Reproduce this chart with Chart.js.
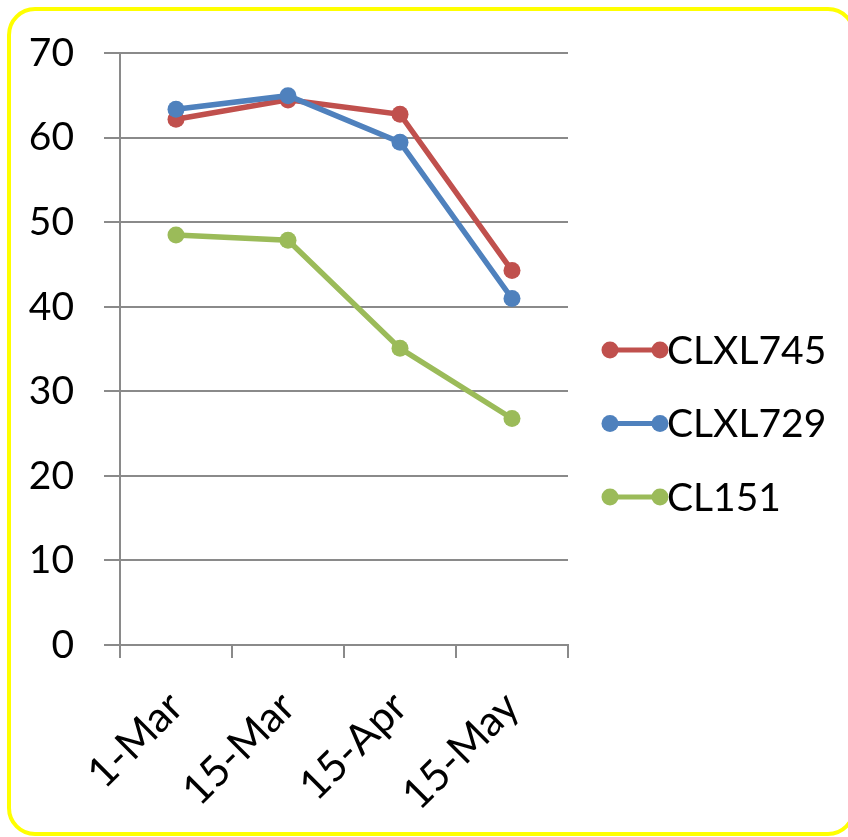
<!DOCTYPE html>
<html>
<head>
<meta charset="utf-8">
<script src="https://cdn.jsdelivr.net/npm/chart.js@4.4.0/dist/chart.umd.min.js"></script>
<style>
  html, body { margin: 0; padding: 0; background: #fff; }
  #wrap { position: relative; width: 848px; height: 837px; overflow: hidden; }
  #frame {
    position: absolute; left: 7px; top: 7px; width: 841px; height: 821px;
    border: 4px solid #ffff00; border-radius: 28px; box-sizing: content-box;
  }
  canvas { position: absolute; left: 0; top: 0; }
</style>
</head>
<body>
<div id="wrap">
  <div id="frame"></div>
  <canvas id="c" width="848" height="837"></canvas>
</div>
<script>
// Sampling dates
const categories = ['1-Mar', '15-Mar', '15-Apr', '15-May'];

// Series values per hybrid
const clxl745 = [62.2, 64.5, 62.8, 44.3];
const clxl729 = [63.4, 65.0, 59.5, 41.0];
const cl151   = [48.5, 47.9, 35.1, 26.8];

// Value axis ticks
const yTicks = [0, 10, 20, 30, 40, 50, 60, 70];

const FONT = 'Lato';
const GRID = '#8a8a8a';

function series(label, data, color, order) {
  return {
    label, data, order,
    borderColor: color, backgroundColor: color,
    borderWidth: 5.5, tension: 0,
    pointRadius: 8.5, pointHoverRadius: 8.5,
    pointBackgroundColor: color, pointBorderWidth: 0
  };
}

// Legend on the right: line with a dot at each end, then the label
const sideLegend = {
  id: 'sideLegend',
  afterDraw(chart) {
    const ctx = chart.ctx;
    const x0 = 610, x1 = 660, top = 350, gap = 73.5;
    ctx.save();
    chart.data.datasets.forEach((ds, i) => {
      const y = top + i * gap;
      ctx.strokeStyle = ds.borderColor;
      ctx.fillStyle = ds.borderColor;
      ctx.lineWidth = 5;
      ctx.beginPath(); ctx.moveTo(x0, y); ctx.lineTo(x1, y); ctx.stroke();
      [x0, x1].forEach(x => { ctx.beginPath(); ctx.arc(x, y, 8.5, 0, Math.PI * 2); ctx.fill(); });
      ctx.fillStyle = '#000';
      ctx.font = '39px ' + FONT;
      ctx.textAlign = 'left';
      ctx.textBaseline = 'middle';
      ctx.fillText(ds.label, 667, y + 1);
    });
    ctx.restore();
  }
};

new Chart(document.getElementById('c'), {
  type: 'line',
  data: {
    labels: categories,
    datasets: [
      series('CLXL745', clxl745, '#c0504d', 1),
      series('CLXL729', clxl729, '#4f81bd', 0),
      series('CL151', cl151, '#9bbb59', 2)
    ]
  },
  options: {
    responsive: false,
    animation: false,
    events: [],
    layout: { padding: { top: 52, right: 280, bottom: 0, left: 0 } },
    plugins: { legend: { display: false }, tooltip: { enabled: false } },
    scales: {
      x: {
        offset: true,
        grid: { offset: true, drawOnChartArea: false, drawTicks: true, tickLength: 13, color: GRID, lineWidth: 2 },
        border: { color: GRID, width: 2 },
        ticks: {
          color: '#000', font: { family: FONT, size: 42 },
          minRotation: 45, maxRotation: 45, padding: 24, autoSkip: false
        },
        afterFit(scale) { scale.height = 192; }
      },
      y: {
        min: 0, max: 70,
        afterBuildTicks(scale) { scale.ticks = yTicks.map(v => ({ value: v })); },
        grid: { color: GRID, lineWidth: 2, drawTicks: true, tickLength: 16 },
        border: { color: GRID, width: 2 },
        ticks: { color: '#000', font: { family: FONT, size: 39 }, padding: 30 },
        afterFit(scale) { scale.width = 120; }
      }
    }
  },
  plugins: [sideLegend]
});
</script>
</body>
</html>
